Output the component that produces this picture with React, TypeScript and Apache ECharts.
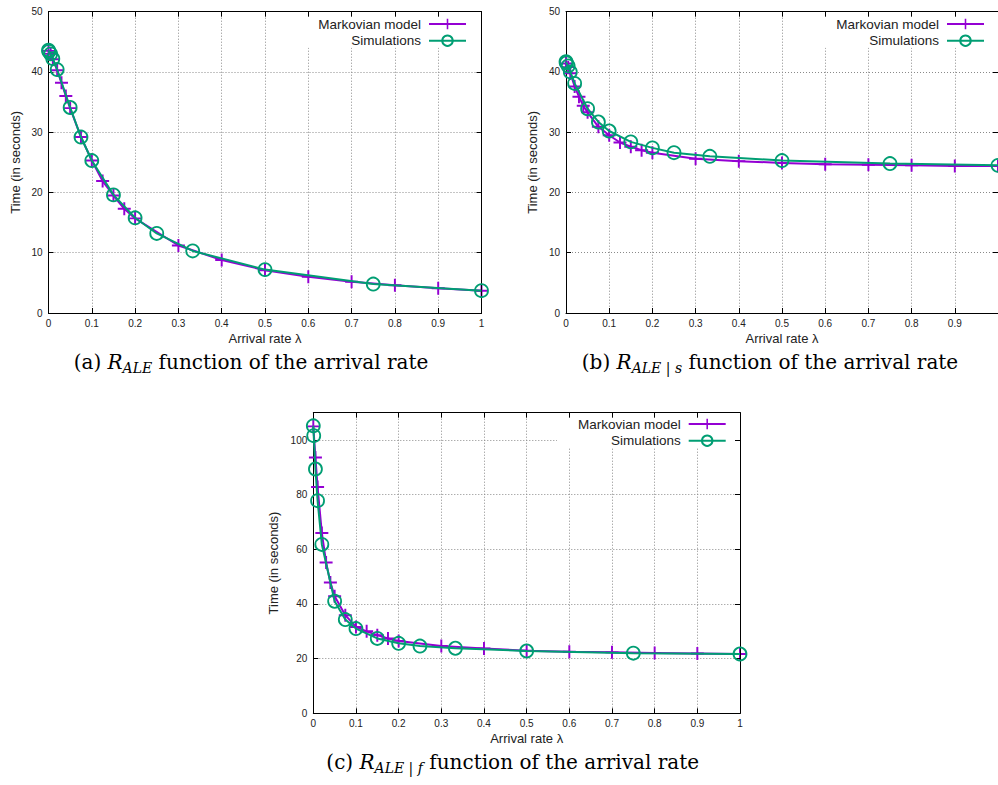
import React, { useEffect, useRef } from "react";
import * as echarts from "echarts";

// Arrival rates (x values)
const lambdaModel = [0, 0.005, 0.01, 0.02, 0.03, 0.04, 0.05, 0.075, 0.1, 0.125, 0.15, 0.175, 0.2, 0.3, 0.4, 0.5, 0.6, 0.7, 0.8, 0.9, 1];
const lambdaSim = [0, 0.001, 0.005, 0.01, 0.02, 0.05, 0.075, 0.1, 0.15, 0.2, 0.25, 0.333, 0.5, 0.75, 1];

// (a) R_ALE
const modelA = [43.5, 43.0, 42.1, 40.3, 38.2, 36.0, 34.0, 29.2, 25.3, 21.9, 19.5, 17.3, 15.7, 11.2, 8.8, 7.1, 6.0, 5.2, 4.6, 4.1, 3.7];
const simA = [43.6, 43.4, 43.0, 42.2, 40.4, 34.1, 29.2, 25.3, 19.6, 15.8, 13.2, 10.3, 7.2, 4.8, 3.7];
// (b) R_ALE|s
const modelB = [41.4, 40.8, 39.8, 37.6, 35.9, 34.4, 33.3, 30.9, 29.5, 28.3, 27.6, 27.0, 26.6, 25.6, 25.2, 24.9, 24.7, 24.6, 24.5, 24.4, 24.4];
const simB = [41.7, 41.5, 41.0, 40.0, 38.1, 33.9, 31.7, 30.2, 28.4, 27.4, 26.6, 26.0, 25.3, 24.8, 24.5];
// (c) R_ALE|f
const modelC = [105, 93.6, 82.8, 66.0, 55.2, 47.9, 42.8, 35.9, 31.6, 30.0, 28.6, 27.4, 26.5, 24.6, 23.7, 22.9, 22.5, 22.3, 22.1, 21.9, 21.7];
const simC = [105.2, 101.6, 89.4, 77.8, 61.8, 41.0, 34.3, 31.0, 27.4, 25.6, 24.6, 23.8, 22.8, 22.0, 21.7];

const seriesNames = ["Markovian model", "Simulations"];
const xAxisTitle = "Arrival rate λ";
const yAxisTitle = "Time (in seconds)";
const captionTexts = [
  "{n|(a) }{i|R}{s|ALE}{n| function of the arrival rate}",
  "{n|(b) }{i|R}{s|ALE}{u| | }{s|s}{n| function of the arrival rate}",
  "{n|(c) }{i|R}{s|ALE}{u| | }{s|f}{n| function of the arrival rate}",
];

const PURPLE = "#9400d3";
const GREEN = "#009e73";
const SANS = "Liberation Sans";
const SERIF = "DejaVu Serif";
const PLUS = "path://M8.5,0H11.5V20H8.5ZM0,8.5H20V11.5H0Z";

const panels = [
  { left: 48.5, top: 11.7, width: 433, height: 301.3, ymax: 50, yint: 10, model: modelA, sim: simA, nameGapY: 27, hideMaxX: false, legendRight: 531, legendTop: 17, box: [300, 12.7, 180.5, 35], caption: [251, 362] },
  { left: 566, top: 11.7, width: 432, height: 301.3, ymax: 50, yint: 10, model: modelB, sim: simB, nameGapY: 27, hideMaxX: true, legendRight: 13, legendTop: 17, box: [818, 12.7, 179, 35], caption: [770, 362] },
  { left: 313.3, top: 412.7, width: 426.7, height: 300.6, ymax: 110, yint: 20, model: modelC, sim: simC, nameGapY: 33, hideMaxX: false, legendRight: 271.3, legendTop: 417, box: [557, 413.7, 182, 34], caption: [512.7, 762] },
];

export default function App() {
  const ref = useRef<HTMLDivElement>(null);
  useEffect(() => {
    if (!ref.current) return;
    const chart = echarts.init(ref.current, undefined, { renderer: "svg" });
    const grid: any[] = [];
    const xAxis: any[] = [];
    const yAxis: any[] = [];
    const series: any[] = [];
    const legend: any[] = [];
    const graphic: any[] = [];
    const labelStyle = { fontFamily: SANS, fontSize: 10, color: "#222" };
    const gridLine = { show: true, lineStyle: { color: "#8a8a8a", type: [1, 2], width: 1 } };
    panels.forEach((p, i) => {
      grid.push({ left: p.left, top: p.top, width: p.width, height: p.height, containLabel: false });
      xAxis.push({
        type: "value", gridIndex: i, min: 0, max: 1, interval: 0.1, position: "bottom",
        name: xAxisTitle, nameLocation: "middle", nameGap: 18.5,
        nameTextStyle: { fontFamily: SANS, fontSize: 13, color: "#222" },
        axisLine: { show: true, onZero: false, lineStyle: { color: "#000", width: 1 } },
        axisTick: { show: true, inside: true, length: 5, lineStyle: { color: "#000" } },
        axisLabel: { ...labelStyle, margin: 5.5, showMaxLabel: !p.hideMaxX },
        splitLine: gridLine, z: 0,
      });
      xAxis.push({
        type: "value", gridIndex: i, min: 0, max: 1, interval: 0.1, position: "top",
        axisLine: { show: true, onZero: false, lineStyle: { color: "#000", width: 1 } },
        axisTick: { show: true, inside: true, length: 5, lineStyle: { color: "#000" } },
        axisLabel: { show: false }, splitLine: { show: false }, z: 3,
      });
      yAxis.push({
        type: "value", gridIndex: i, min: 0, max: p.ymax, interval: p.yint, position: "left",
        name: yAxisTitle, nameLocation: "middle", nameGap: p.nameGapY, nameRotate: 90,
        nameTextStyle: { fontFamily: SANS, fontSize: 13, color: "#222" },
        axisLine: { show: true, onZero: false, lineStyle: { color: "#000", width: 1 } },
        axisTick: { show: true, inside: true, length: 5, lineStyle: { color: "#000" } },
        axisLabel: { ...labelStyle, margin: 6, showMaxLabel: p.ymax % p.yint === 0 },
        splitLine: gridLine, z: 0,
      });
      yAxis.push({
        type: "value", gridIndex: i, min: 0, max: p.ymax, interval: p.yint, position: "right",
        axisLine: { show: true, onZero: false, lineStyle: { color: "#000", width: 1 } },
        axisTick: { show: true, inside: true, length: 5, lineStyle: { color: "#000" } },
        axisLabel: { show: false }, splitLine: { show: false }, z: 3,
      });
      series.push({
        type: "line", name: seriesNames[0], xAxisIndex: 2 * i, yAxisIndex: 2 * i,
        data: lambdaModel.map((x, k) => [x, p.model[k]]),
        symbol: PLUS, symbolSize: 13, showSymbol: true,
        lineStyle: { color: PURPLE, width: 2 }, itemStyle: { color: PURPLE }, z: 2,
      });
      series.push({
        type: "line", name: seriesNames[1], xAxisIndex: 2 * i, yAxisIndex: 2 * i,
        data: lambdaSim.map((x, k) => [x, p.sim[k]]),
        symbol: "circle", symbolSize: 13, showSymbol: true,
        lineStyle: { color: GREEN, width: 2 },
        itemStyle: { color: "rgba(0,0,0,0)", borderColor: GREEN, borderWidth: 1.8 }, z: 3,
      });
      seriesNames.forEach((nm, k) => {
        legend.push({
          data: [nm], right: p.legendRight, top: p.legendTop + k * 16.7, orient: "vertical", align: "right",
          itemWidth: 37, itemHeight: 13, padding: 0, selectedMode: false,
          textStyle: { fontFamily: SANS, fontSize: 13.5, color: "#222", padding: [0, 3, 0, 0] },
        });
      });
      graphic.push({
        type: "rect", z: 1, silent: true,
        shape: { x: p.box[0], y: p.box[1], width: p.box[2], height: p.box[3] },
        style: { fill: "#fff" },
      });
      graphic.push({
        type: "text", z: 5, x: p.caption[0], y: p.caption[1],
        style: {
          text: captionTexts[i], align: "center", verticalAlign: "middle",
          rich: {
            n: { fontFamily: SERIF, fontSize: 20, color: "#000" },
            i: { fontFamily: SERIF, fontSize: 20, fontStyle: "italic", color: "#000" },
            s: { fontFamily: SERIF, fontSize: 14, fontStyle: "italic", color: "#000", padding: [12, 0, 0, 0] },
            u: { fontFamily: SERIF, fontSize: 14, color: "#000", padding: [12, 0, 0, 0] },
          },
        },
      });
    });
    chart.setOption({
      animation: false,
      backgroundColor: "#fff",
      grid, xAxis, yAxis, series, legend, graphic,
    });
    return () => chart.dispose();
  }, []);
  return <div ref={ref} style={{ position: "absolute", left: 0, top: 0, width: 998, height: 785 }} />;
}
